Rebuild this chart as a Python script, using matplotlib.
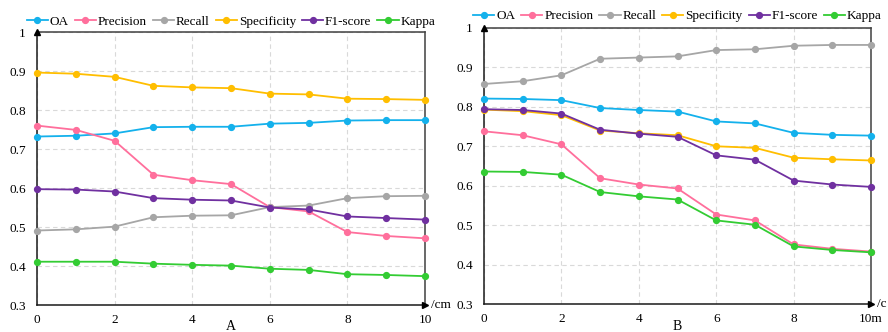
import matplotlib
matplotlib.use("Agg")
import matplotlib.pyplot as plt

plt.rcParams['font.family'] = ['Liberation Serif', 'DejaVu Serif']

x = list(range(11))
series_names = ["OA", "Precision", "Recall", "Specificity", "F1-score", "Kappa"]
colors = ["#14B1EC", "#FF6F9C", "#A6A6A6", "#FFBE00", "#7030A0", "#33CC33"]

# Panel A
A_OA = [0.732, 0.734, 0.740, 0.756, 0.757, 0.757, 0.765, 0.767, 0.773, 0.774, 0.774]
A_Precision = [0.760, 0.749, 0.721, 0.634, 0.620, 0.610, 0.551, 0.540, 0.487, 0.477, 0.471]
A_Recall = [0.491, 0.494, 0.501, 0.525, 0.529, 0.530, 0.551, 0.555, 0.574, 0.579, 0.580]
A_Specificity = [0.896, 0.893, 0.885, 0.862, 0.858, 0.856, 0.842, 0.840, 0.829, 0.828, 0.826]
A_F1 = [0.597, 0.596, 0.591, 0.574, 0.570, 0.568, 0.550, 0.545, 0.527, 0.523, 0.519]
A_Kappa = [0.411, 0.411, 0.411, 0.406, 0.403, 0.401, 0.393, 0.390, 0.379, 0.377, 0.374]

# Panel B
B_OA = [0.821, 0.820, 0.817, 0.797, 0.792, 0.788, 0.763, 0.758, 0.734, 0.729, 0.727]
B_Precision = [0.738, 0.728, 0.705, 0.619, 0.603, 0.593, 0.527, 0.512, 0.451, 0.440, 0.433]
B_Recall = [0.858, 0.865, 0.880, 0.922, 0.925, 0.928, 0.944, 0.946, 0.955, 0.957, 0.957]
B_Specificity = [0.793, 0.789, 0.779, 0.740, 0.733, 0.728, 0.700, 0.696, 0.671, 0.667, 0.664]
B_F1 = [0.794, 0.792, 0.783, 0.742, 0.732, 0.724, 0.677, 0.666, 0.613, 0.603, 0.597]
B_Kappa = [0.636, 0.635, 0.628, 0.584, 0.573, 0.565, 0.512, 0.501, 0.446, 0.437, 0.431]

A_data = [A_OA, A_Precision, A_Recall, A_Specificity, A_F1, A_Kappa]
B_data = [B_OA, B_Precision, B_Recall, B_Specificity, B_F1, B_Kappa]

xticks = [0, 2, 4, 6, 8, 10]
A_xticklabels = ["0", "2", "4", "6", "8", "10"]
B_xticklabels = ["0", "2", "4", "6", "8", "10m"]
yticks = [0.3, 0.4, 0.5, 0.6, 0.7, 0.8, 0.9, 1.0]
yticklabels = ["0.3", "0.4", "0.5", "0.6", "0.7", "0.8", "0.9", "1"]

FS = 9.5

fig = plt.figure(figsize=(8.88, 3.32), dpi=100)
axA = fig.add_axes([0.0417, 0.0813, 0.4369, 0.8223])
axB = fig.add_axes([0.5450, 0.0843, 0.4360, 0.8314])


def draw(ax, data, xtl, unit, panel, legend_y):
    for vals, name, c in zip(data, series_names, colors):
        ax.plot(x, vals, color=c, lw=1.3, marker='o', ms=4.2, label=name,
                clip_on=False, zorder=3)
    ax.set_xlim(0, 10)
    ax.set_ylim(0.3, 1.0)
    ax.set_xticks(xticks)
    ax.set_xticklabels(xtl, fontsize=FS)
    ax.set_yticks(yticks)
    ax.set_yticklabels(yticklabels, fontsize=FS)
    ax.tick_params(axis='x', length=0, pad=6.5)
    ax.tick_params(axis='y', length=0, pad=8)
    ax.grid(True, color='#D9D9D9', ls=(0, (4, 3)), lw=0.8)
    ax.set_axisbelow(True)
    for s in ['left', 'bottom']:
        ax.spines[s].set_color('#1a1a1a')
        ax.spines[s].set_linewidth(1.1)
    for s in ['right', 'top']:
        ax.spines[s].set_color('#404040')
        ax.spines[s].set_linewidth(1.1)
    # axis arrows
    ax.plot([0], [1.0], marker='^', color='black', ms=5, transform=ax.transAxes,
            clip_on=False, zorder=5)
    ax.plot([1.0], [0], marker='>', color='black', ms=5, transform=ax.transAxes,
            clip_on=False, zorder=5)
    ax.text(1.015, 0.0, unit, transform=ax.transAxes, fontsize=FS,
            ha='left', va='center')
    ax.text(0.5, -0.08, panel, transform=ax.transAxes, fontsize=10,
            ha='center', va='center')
    ax.legend(loc='lower center', bbox_to_anchor=(0.5, legend_y), ncol=6,
              frameon=False, fontsize=FS, handlelength=1.6, handletextpad=0.15,
              columnspacing=0.45, borderaxespad=0, borderpad=0)


draw(axA, A_data, A_xticklabels, "/cm", "A", 1.015)
draw(axB, B_data, B_xticklabels, "/c", "B", 1.02)

fig.savefig("out.png", dpi=100)
